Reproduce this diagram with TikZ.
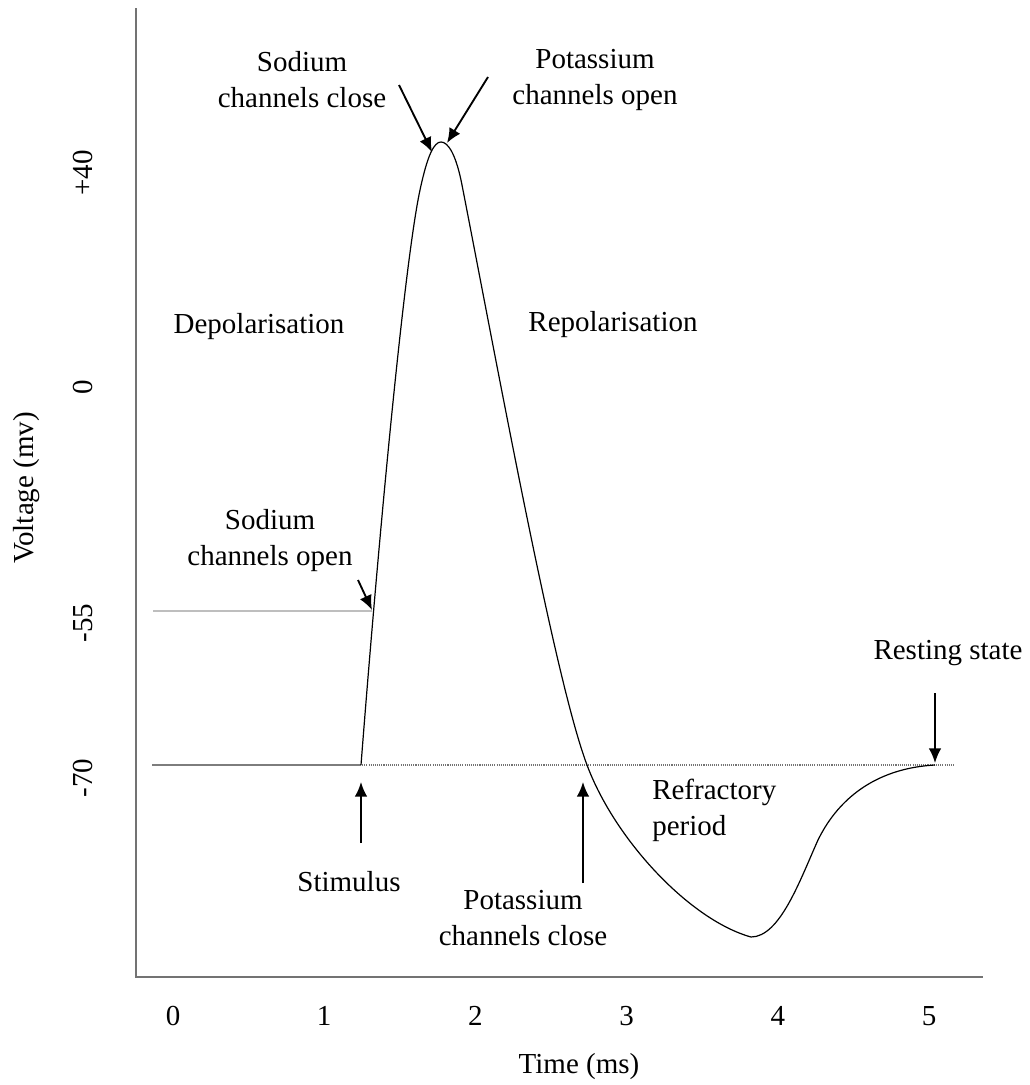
\documentclass[tikz,border=0pt]{standalone}
\usepackage{fontspec}
\setmainfont{Liberation Serif}
\usetikzlibrary{arrows.meta}
\definecolor{axisgray}{RGB}{115,115,115}
\definecolor{restgray}{RGB}{125,125,125}
\definecolor{threshgray}{RGB}{190,190,190}
\begin{document}
\begin{tikzpicture}[x=0.75pt, y=-0.75pt,
        lbl/.style={inner sep=0pt, align=center, font=\fontsize{21.75}{27}\selectfont},
        pointer/.style={-{Latex[length=11pt,width=9.5pt]}, line width=1.4pt},
        axisline/.style={axisgray, line width=1.6pt},
        trace/.style={line width=0.9pt}]
        \useasboundingbox (0,0) rectangle (1030,1085);
        % axes
        \coordinate (top) at (136,8);
        \coordinate (origin) at (136,977);
        \coordinate (tend) at (983,977);
        \draw[axisline] (top) -- (origin) -- (tend);
        % threshold and resting levels
        \draw[threshgray, line width=1.5pt] (153,611) -- (372,611);
        \draw[restgray, line width=1.6pt] (152,765) -- (360,765);
        \draw[axisgray, dash pattern=on 0.8pt off 0.8pt, line width=0.9pt] (360,765) -- (955,765);
        % action potential
        \draw[trace] (361,765) .. controls (380,520) and (405,260) .. (420,190)
            .. controls (427.5,155) and (434,142) .. (441,142)
            .. controls (448,142) and (456,154) .. (462,185)
            .. controls (500,380) and (555,680) .. (587,765)
            .. controls (615,840) and (690,920) .. (751,937)
            .. controls (780,937) and (800,880) .. (818,840)
            .. controls (840,795) and (880,768) .. (935,765);
        % labels
        \node[lbl] (naclose) at (302,80) {Sodium\\channels close};
        \node[lbl] (kopen) at (595,80) {Potassium\\channels open};
        \node[lbl] (depol) at (259,327) {Depolarisation};
        \node[lbl] (repol) at (613,325) {Repolarisation};
        \node[lbl] (naopen) at (270,541) {Sodium\\channels open};
        \node[lbl] (rest) at (948,653) {Resting state};
        \node[lbl, anchor=west, align=left] (refr) at (652,810) {Refractory\\period};
        \node[lbl] (stim) at (349,882) {Stimulus};
        \node[lbl] (kclose) at (523,918) {Potassium\\channels close};
        % arrows
        \coordinate (nacloset) at (399,85);
        \coordinate (naclosep) at (432,152);
        \coordinate (kopent) at (488,77);
        \coordinate (kopenp) at (447,143);
        \coordinate (naopent) at (358,580);
        \coordinate (naopenp) at (372,610);
        \coordinate (restt) at (935,693);
        \coordinate (restp) at (935,763);
        \coordinate (stimt) at (361,843);
        \coordinate (stimp) at (361,782);
        \coordinate (kcloset) at (583,883);
        \coordinate (kclosep) at (583,782);
        \draw[pointer] (nacloset) -- (naclosep);
        \draw[pointer] (kopent) -- (kopenp);
        \draw[pointer] (naopent) -- (naopenp);
        \draw[pointer] (restt) -- (restp);
        \draw[pointer] (stimt) -- (stimp);
        \draw[pointer] (kcloset) -- (kclosep);
        % voltage axis
        \node[lbl, rotate=90] (vplus) at (83,173) {+40};
        \node[lbl, rotate=90] (vzero) at (83,387) {0};
        \node[lbl, rotate=90] (vthr) at (83,623) {-55};
        \node[lbl, rotate=90] (vrest) at (83,778) {-70};
        \node[lbl, rotate=90] (vtitle) at (27,488) {Voltage (mv)};
        % time axis
        \foreach \i in {0,...,5}
            \node[lbl] (t\i) at (173+151.2*\i,1016) {\i};
        \node[lbl] (ttitle) at (579,1067) {Time (ms)};
    \end{tikzpicture}
\end{document}
